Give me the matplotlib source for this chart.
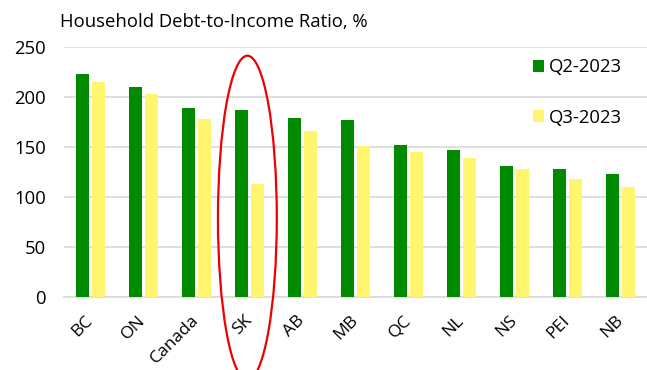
import numpy as np
import matplotlib
matplotlib.use("Agg")
import matplotlib.pyplot as plt
from matplotlib.patches import Ellipse

plt.rcParams['font.family'] = ['Open Sans', 'DejaVu Sans']

provinces = ['BC', 'ON', 'Canada', 'SK', 'AB', 'MB', 'QC', 'NL', 'NS', 'PEI', 'NB']
q2_2023 = [223, 210, 189, 187, 179, 177, 152, 147, 131, 128, 123]
q3_2023 = [215, 203, 178, 113, 166, 151, 145, 139, 128, 118, 110]
yticks = [0, 50, 100, 150, 200, 250]

GREEN = '#008a00'
YELLOW = '#fff56e'
FS = 13.3

fig = plt.figure(figsize=(6.47, 3.70), dpi=100)
ax = fig.add_axes([64 / 647, 1 - 297 / 370, 583 / 647, 250.3 / 370])

x = np.arange(len(provinces))
w = 0.264
ax.bar(x - 0.151, q2_2023, width=w, color=GREEN, label='Q2-2023', zorder=3)
ax.bar(x + 0.151, q3_2023, width=w, color=YELLOW, label='Q3-2023', zorder=3)

ax.set_xlim(-0.5, len(provinces) - 0.5)
ax.set_ylim(0, 250)
ax.set_yticks(yticks)
ax.yaxis.grid(True, color='#d9d9d9', linewidth=1.2, zorder=0)
ax.set_axisbelow(True)
for s in ['top', 'right', 'left']:
    ax.spines[s].set_visible(False)
ax.spines['bottom'].set_color('#d9d9d9')
ax.spines['bottom'].set_linewidth(1.2)
ax.tick_params(axis='y', length=0, labelsize=FS, pad=13)
ax.set_xticks(x)
ax.set_xticklabels(provinces, rotation=45, ha='right', va='center',
                   rotation_mode='anchor')
ax.tick_params(axis='x', length=0, labelsize=12.6, pad=15)

# highlight SK
ax.add_patch(Ellipse((3 - 0.04, 79), 1.11, 324, fill=False, edgecolor='#ee0000',
                     linewidth=1.6, clip_on=False, zorder=5))

ax.legend(loc='upper right', bbox_to_anchor=(0.985, 1.02), frameon=False,
          fontsize=FS, handlelength=0.62, handleheight=0.62, handletextpad=0.25,
          labelspacing=1.75)

fig.text(60 / 647, 1 - 22 / 370, 'Household Debt-to-Income Ratio, %',
         fontsize=FS, ha='left', va='center')

fig.savefig('out.png', dpi=100)
